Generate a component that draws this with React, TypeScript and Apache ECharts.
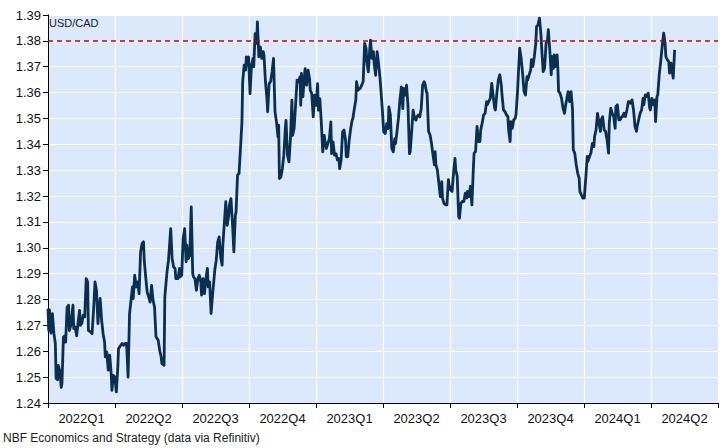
import React, { useEffect, useRef } from "react";
import * as echarts from "echarts";

// Quarter labels (x axis categories)
const quarters = ["2022Q1", "2022Q2", "2022Q3", "2022Q4", "2023Q1", "2023Q2", "2023Q3", "2023Q4", "2024Q1", "2024Q2"];
// Total days spanned by the axis: 2022-01-01 .. 2024-07-01
const totalDays = 912;

// Days since 2022-01-01
const days = [
  0, 1, 2, 4, 6, 8, 10, 11, 13, 14, 16, 18, 19, 21, 23, 24, 26, 28, 29, 31, 34, 35, 37, 39, 41, 43, 44, 46, 48, 50,
  52, 54, 55, 58, 60, 62, 64, 66, 68, 69, 71, 73, 75, 77, 78, 80, 82, 84, 86, 87, 89, 91, 93, 95, 96, 99, 101, 103, 105, 107,
  109, 111, 113, 115, 116, 118, 120, 122, 124, 126, 128, 130, 131, 133, 135, 137, 139, 141, 143, 145, 147, 150, 152, 154, 155, 158, 159, 162, 164, 167,
  169, 171,
  173, 174, 177, 179, 180, 182, 184, 186, 188, 189, 191, 193, 195, 197, 198, 200, 202, 204, 206, 208, 209, 211, 213, 215, 217, 218, 220, 222, 224, 226,
  227, 229, 231, 233, 235, 237, 238, 240, 242, 244, 246, 247, 249, 251, 253, 255, 256, 258, 260, 262, 264, 265, 267, 269, 270, 272, 273, 275, 277, 279,
  280, 282, 284, 285, 287, 289, 291, 293, 294, 296, 298, 299, 301, 303, 305, 307, 309, 311, 313, 314, 315, 317, 319, 321, 323, 324, 326, 328, 330, 332,
  333, 335, 337, 339, 341, 343,
  344, 345, 347, 349, 350, 352, 354, 356, 357, 359, 361, 363, 365, 367, 368, 370, 372, 374, 376, 377, 379, 381, 383, 385, 386, 388, 390, 392, 394, 396,
  397, 399, 401, 403, 405, 406, 408, 410, 412, 414, 415, 417, 419, 420, 422, 424, 425, 427, 429, 431, 433, 434, 436, 438, 439, 441, 443, 444, 446, 448,
  450, 452, 454, 455, 457, 459, 461, 463, 464, 466, 468, 470, 472, 473, 475, 477, 479, 481, 483, 484, 486, 488, 490, 492, 493, 495, 497, 499, 501, 502,
  504, 506, 508, 510, 512,
  513, 515, 516, 518, 520, 522, 524, 526, 527, 528, 530, 532, 534, 536, 537, 539, 541, 543, 545, 546, 548, 550, 552, 554, 555, 557, 559, 560, 562, 564,
  566, 568, 570, 571, 573, 575, 577, 579, 580, 582, 584, 586, 588, 589, 591, 593, 595, 597, 598, 600, 602, 604, 606, 608, 609, 611, 613, 615, 617, 618,
  620, 622, 624, 626, 627, 629, 630, 632, 634, 636, 637, 639, 641, 642, 644, 646, 648, 650, 652, 653, 655, 657, 658, 660, 662, 664, 665, 667, 669, 671,
  672, 674, 676, 678, 680, 681,
  683, 685, 686, 688, 689, 691, 693, 694, 695, 697, 699, 701, 703, 705, 706, 708, 710, 712, 714, 715, 717, 719, 721, 723, 724, 726, 728, 730, 732, 734,
  735, 737, 739, 741, 743, 744, 746, 748, 750, 752, 753, 755, 757, 759, 761, 763, 764, 766, 768, 770, 772, 773, 775, 777, 779, 781, 782, 784, 786, 788,
  790, 792, 793, 795, 797, 799, 801, 802, 804, 806, 808, 810, 811, 813, 815, 817, 819, 820, 822, 824, 826, 827, 829, 830, 832, 834, 836, 838, 840, 841,
  843, 845, 846, 848, 849, 851, 853,
];

// USD/CAD exchange rate
const usdcad = [
  1.2765, 1.268, 1.276, 1.267, 1.2745, 1.267, 1.263, 1.2495, 1.249, 1.2545, 1.2525, 1.246, 1.2475, 1.2655, 1.266, 1.2635, 1.277, 1.2778, 1.268, 1.27, 1.2778, 1.2688, 1.2694, 1.266, 1.2713, 1.2758, 1.27, 1.2707, 1.274, 1.2733,
  1.2881, 1.2868, 1.268, 1.2675, 1.2668, 1.2758, 1.2868, 1.2836, 1.2707, 1.2745, 1.2804, 1.272, 1.2668, 1.2636, 1.2578, 1.2597, 1.2527, 1.2585, 1.2514, 1.2449, 1.2507, 1.25, 1.2443, 1.2539, 1.261, 1.2623, 1.263, 1.2623, 1.263, 1.263,
  1.25, 1.2745, 1.2797, 1.2849, 1.2804, 1.2894, 1.2849, 1.2868, 1.2823, 1.2984, 1.3016, 1.3023, 1.2952, 1.2887, 1.2829, 1.281, 1.279, 1.2855, 1.2797, 1.2771, 1.2656, 1.2643, 1.2604, 1.2578, 1.2552, 1.2546, 1.281, 1.2907, 1.2952, 1.3074,
  1.2958, 1.2926,
  1.292, 1.2881, 1.2881, 1.292, 1.2888, 1.2894, 1.3036, 1.3074, 1.2946, 1.301, 1.2958, 1.2971, 1.3158, 1.29, 1.2888, 1.2881, 1.2836, 1.2881, 1.2894, 1.2868, 1.2817, 1.2881, 1.2823, 1.2881, 1.292, 1.2849, 1.2868, 1.2746, 1.2817, 1.2881,
  1.2913, 1.2952, 1.3023, 1.3042, 1.2965, 1.2933, 1.301, 1.3094, 1.3178, 1.3087, 1.3126, 1.3165, 1.319, 1.31, 1.2984, 1.3126, 1.3139, 1.3281, 1.3287, 1.3384, 1.3487, 1.3642, 1.3706, 1.3687, 1.3738, 1.3706, 1.3738, 1.3596, 1.3706, 1.3732,
  1.37, 1.3828, 1.379, 1.3873, 1.3738, 1.3777, 1.3732, 1.3758, 1.3745, 1.3642, 1.3577, 1.3526, 1.3635, 1.3642, 1.368, 1.3732, 1.3526, 1.3487, 1.3429, 1.3474, 1.3268, 1.3274, 1.3306, 1.3358, 1.3461, 1.3493, 1.3358, 1.3332, 1.3422, 1.3571,
  1.3435, 1.3461, 1.3551, 1.3648, 1.3642, 1.3661,
  1.3551, 1.3674, 1.3584, 1.3661, 1.3693, 1.3629, 1.3687, 1.3654, 1.3609, 1.3596, 1.3506, 1.359, 1.3551, 1.3635, 1.3532, 1.3577, 1.3487, 1.3371, 1.3435, 1.3416, 1.3384, 1.3403, 1.3422, 1.3487, 1.3364, 1.3409, 1.3358, 1.3364, 1.3339, 1.3345,
  1.3306, 1.3339, 1.3448, 1.3455, 1.3416, 1.3352, 1.3352, 1.3416, 1.3461, 1.3493, 1.35, 1.3538, 1.3571, 1.3642, 1.3609, 1.3616, 1.3616, 1.3629, 1.3642, 1.379, 1.377, 1.3719, 1.368, 1.377, 1.3803, 1.3732, 1.3758, 1.3712, 1.3667, 1.3758,
  1.3712, 1.3654, 1.3577, 1.3538, 1.3448, 1.3442, 1.348, 1.3461, 1.3545, 1.3513, 1.3384, 1.3371, 1.3422, 1.3403, 1.3448, 1.35, 1.3571, 1.3622, 1.3538, 1.3616, 1.359, 1.3629, 1.3551, 1.3364, 1.3371, 1.3448, 1.3532, 1.35, 1.3493, 1.3506,
  1.3513, 1.3506, 1.3538, 1.3629, 1.3642,
  1.3636, 1.3604, 1.3598, 1.345, 1.3437, 1.3404, 1.3359, 1.3321, 1.3372, 1.3321, 1.3301, 1.325, 1.3198, 1.3256, 1.3192, 1.3172, 1.3166, 1.3166, 1.3263, 1.3243, 1.3224, 1.3218, 1.3288, 1.3346, 1.3301, 1.3276, 1.3121, 1.3114, 1.3172, 1.3179,
  1.3179, 1.3211, 1.3192, 1.3218, 1.3198, 1.3237, 1.3166, 1.3308, 1.3366, 1.3372, 1.3469, 1.3411, 1.3411, 1.3456, 1.3482, 1.3514, 1.352, 1.3565, 1.3553, 1.3565, 1.3578, 1.3636, 1.3585, 1.354, 1.3533, 1.3598, 1.3649, 1.3669, 1.363, 1.3591,
  1.3533, 1.3527, 1.3514, 1.3507, 1.3456, 1.3411, 1.3488, 1.3462, 1.3495, 1.3501, 1.3514, 1.3598, 1.3714, 1.3772, 1.3733, 1.3675, 1.3604, 1.3591, 1.3662, 1.3649, 1.3669, 1.3688, 1.3727, 1.3701, 1.3739, 1.3791, 1.3855, 1.3862, 1.3888, 1.3823,
  1.3772, 1.3681, 1.3694, 1.3791, 1.3804, 1.3843,
  1.3765, 1.3669, 1.3739, 1.3694, 1.3746, 1.3701, 1.3746, 1.3694, 1.3604, 1.3598, 1.3578, 1.354, 1.352, 1.3559, 1.3572, 1.3604, 1.3565, 1.3604, 1.3533, 1.3379, 1.3366, 1.3321, 1.3288, 1.3269, 1.3217, 1.3205, 1.3192, 1.3192, 1.3269, 1.3353,
  1.3334, 1.3353, 1.3366, 1.3404, 1.3391, 1.343, 1.3456, 1.352, 1.3482, 1.345, 1.3495, 1.3507, 1.3456, 1.345, 1.3417, 1.3366, 1.3482, 1.354, 1.352, 1.3507, 1.3462, 1.3546, 1.3553, 1.3495, 1.3495, 1.3507, 1.3507, 1.352, 1.3507, 1.3533,
  1.3565, 1.3565, 1.3559, 1.3572, 1.3533, 1.3469, 1.345, 1.3469, 1.3495, 1.352, 1.3533, 1.3578, 1.3553, 1.3591, 1.3585, 1.3598, 1.354, 1.3533, 1.3578, 1.3553, 1.3572, 1.3488, 1.3585, 1.3591, 1.3669, 1.372, 1.3778, 1.383, 1.3791, 1.3739,
  1.3727, 1.372, 1.3675, 1.3714, 1.3694, 1.3656, 1.3765,
];

const yMin = 1.24;
const yMax = 1.39;
const yStep = 0.01;
const refLevel = 1.38;

const FONT = "'Liberation Sans', Arial, sans-serif";

export default function App() {
  const ref = useRef<HTMLDivElement>(null);

  useEffect(() => {
    if (!ref.current) return;
    const chart = echarts.init(ref.current, undefined, { renderer: "svg" });
    const data = days.map((d, i) => [d, usdcad[i]]);
    chart.setOption({
      animation: false,
      textStyle: { fontFamily: FONT },
      grid: {
        left: 48,
        right: 2,
        top: 15,
        bottom: 45,
        show: true,
        backgroundColor: "#dce8fb",
        borderWidth: 0,
      },
      xAxis: [
        {
          type: "category",
          data: quarters,
          boundaryGap: true,
          position: "bottom",
          axisLine: { show: true, lineStyle: { color: "#000", width: 1 } },
          axisTick: { show: true, interval: 0, alignWithLabel: false, length: 5, lineStyle: { color: "#000" } },
          axisLabel: { interval: 0, color: "#111", fontSize: 13, fontFamily: FONT, margin: 9 },
          splitLine: { show: true, interval: 0, lineStyle: { color: "#ffffff", width: 1.2 } },
        },
        {
          type: "value",
          min: 0,
          max: totalDays,
          show: false,
          splitLine: { show: false },
        },
      ],
      yAxis: {
        type: "value",
        min: yMin,
        max: yMax,
        interval: yStep,
        axisLine: { show: true, lineStyle: { color: "#000", width: 1 } },
        axisTick: { show: true, length: 5, lineStyle: { color: "#000" } },
        axisLabel: {
          color: "#111",
          fontSize: 13,
          fontFamily: FONT,
          margin: 7,
          formatter: (v: number) => v.toFixed(2),
        },
        splitLine: { show: true, lineStyle: { color: "#ffffff", width: 1.2 } },
      },
      series: [
        {
          type: "line",
          xAxisIndex: 1,
          data,
          showSymbol: false,
          symbol: "none",
          lineStyle: { color: "#0a2f4f", width: 2.8, join: "round" },
          markLine: {
            silent: true,
            symbol: "none",
            label: { show: false },
            lineStyle: { color: "#c40000", type: [5, 4], width: 1.6 },
            data: [{ yAxis: refLevel }],
          },
        },
      ],
      graphic: [
        {
          type: "text",
          left: 49,
          top: 17,
          style: { text: "USD/CAD", font: `11px ${FONT}`, fill: "#222" },
        },
        {
          type: "text",
          left: 3,
          top: 432,
          style: { text: "NBF Economics and Strategy (data via Refinitiv)", font: `12px ${FONT}`, fill: "#222" },
        },
      ],
    });
    return () => chart.dispose();
  }, []);

  return (
    <div
      ref={ref}
      style={{ position: "absolute", left: 0, top: 0, width: 720, height: 448, background: "#fff" }}
    />
  );
}
